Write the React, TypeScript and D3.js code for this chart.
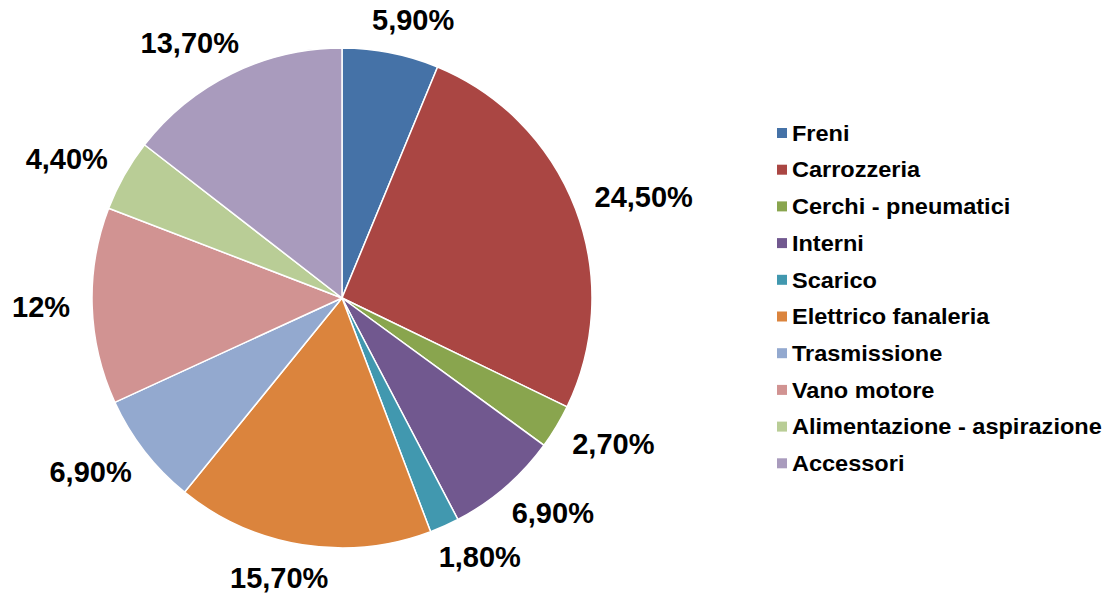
import React from 'react'
import * as d3 from 'd3'

const CATEGORIES = [
  'Freni',
  'Carrozzeria',
  'Cerchi - pneumatici',
  'Interni',
  'Scarico',
  'Elettrico fanaleria',
  'Trasmissione',
  'Vano motore',
  'Alimentazione - aspirazione',
  'Accessori'
]

const VALUES = [5.9, 24.5, 2.7, 6.9, 1.8, 15.7, 6.9, 12, 4.4, 13.7]

const LABELS = ['5,90%', '24,50%', '2,70%', '6,90%', '1,80%', '15,70%', '6,90%', '12%', '4,40%', '13,70%']

const COLORS = ['#4572A7', '#AA4643', '#89A54E', '#71588F', '#4198AF', '#DB843D', '#93A9CF', '#D19392', '#B9CD96', '#A99BBD']

const FONT = '"Liberation Sans", Arial, sans-serif'

// rough text width for bold Arial-like digits
const measure = (s: string, size: number) => {
  let w = 0
  for (const c of s) {
    if (c === ',') w += 0.278
    else if (c === '%') w += 0.889
    else w += 0.556
  }
  return w * size
}

export default function App() {
  const width = 1118
  const height = 593
  const cx = 342
  const cy = 298
  const radius = 250
  const labelSize = 29
  const gap = 22

  const pie = d3.pie<number>().sort(null).value(d => d)
  const arcs = pie(VALUES)
  const arc = d3.arc<d3.PieArcDatum<number>>().innerRadius(0).outerRadius(radius)

  const legendX = 777
  const legendY = 133
  const legendStep = 36.7

  return (
    <svg width={width} height={height} style={{ position: 'absolute', left: 0, top: 0, background: '#fff' }}>
      <g transform={`translate(${cx},${cy})`}>
        {arcs.map((a, i) => (
          <path key={i} d={arc(a) || ''} fill={COLORS[i]} stroke="#fff" strokeWidth={1.5} />
        ))}
        {arcs.map((a, i) => {
          const mid = (a.startAngle + a.endAngle) / 2
          const s = Math.sin(mid)
          const c = Math.cos(mid)
          const w = measure(LABELS[i], labelSize)
          const h = labelSize * 0.8
          const r = radius + gap
          // push label box outward, a bit more sideways than a plain projection
          const x = r * s + Math.sign(s) * Math.sqrt(Math.abs(s)) * w / 2
          const y = -r * c - c * h / 2
          return (
            <text
              key={`l-${i}`}
              x={x}
              y={y}
              textAnchor="middle"
              dominantBaseline="central"
              fontFamily={FONT}
              fontWeight="bold"
              fontSize={labelSize}
              fill="#000"
            >
              {LABELS[i]}
            </text>
          )
        })}
      </g>

      <g>
        {CATEGORIES.map((name, i) => (
          <g key={name} transform={`translate(${legendX},${legendY + i * legendStep})`}>
            <rect x={0} y={-5} width={10} height={10} fill={COLORS[i]} />
            <text
              x={14}
              y={0}
              dominantBaseline="central"
              fontFamily={FONT}
              fontWeight="bold"
              fontSize={22}
              fill="#000"
              transform="scale(1.07,1)"
            >
              {name}
            </text>
          </g>
        ))}
      </g>
    </svg>
  )
}
